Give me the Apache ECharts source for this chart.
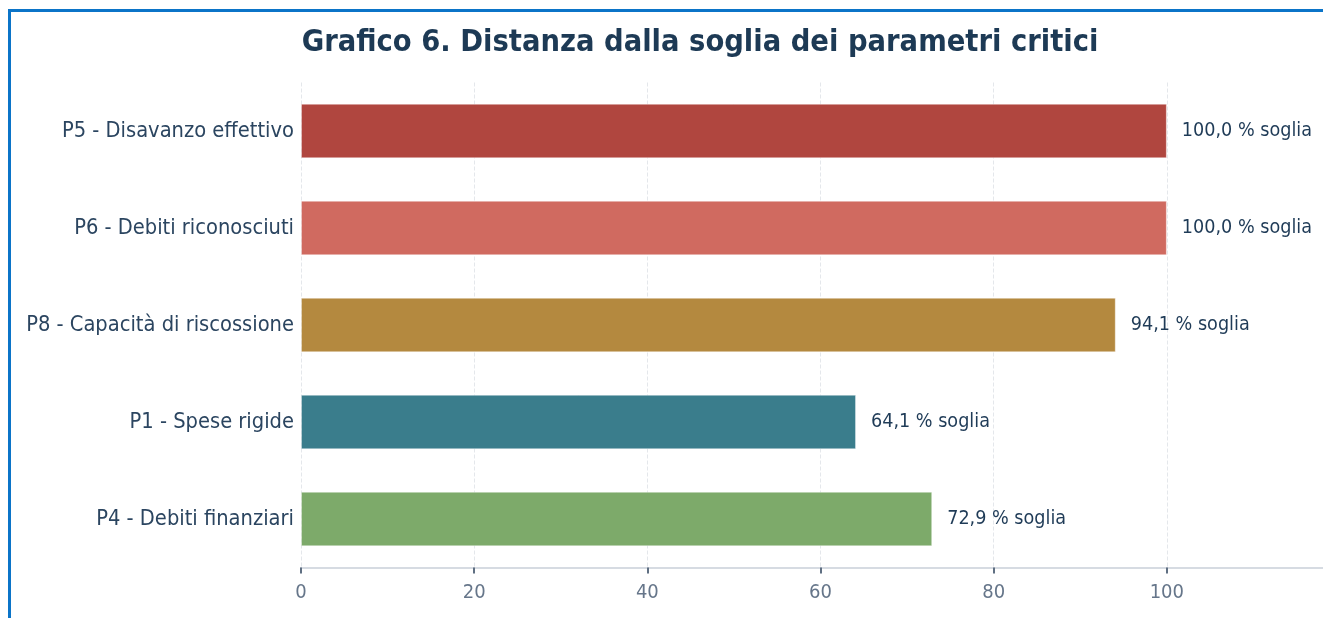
<!DOCTYPE html>
<html>
<head>
<meta charset="utf-8">
<script src="https://cdn.jsdelivr.net/npm/echarts@6/dist/echarts.min.js"></script>
<style>
  html, body { margin: 0; padding: 0; overflow: hidden; background: #fff; }
  #box {
    position: absolute;
    left: 8px;
    top: 9px;
    border: 3px solid #0b74c8;
    width: 1378px;
    height: 640px;
  }
  #chart { width: 1378px; height: 640px; }
</style>
</head>
<body>
<div id="box"><div id="chart"></div></div>
<script>
const categories = [
  'P5 - Disavanzo effettivo',
  'P6 - Debiti riconosciuti',
  'P8 - Capacità di riscossione',
  'P1 - Spese rigide',
  'P4 - Debiti finanziari'
]
const values = [100.0, 100.0, 94.1, 64.1, 72.9]
const barColors = ['#b0463f', '#d06a60', '#b4893f', '#3a7d8c', '#7daa6a']
const xTicks = [0, 20, 40, 60, 80, 100, 120]

const font = '"DejaVu Sans Condensed", "DejaVu Sans", sans-serif'

const chart = echarts.init(document.getElementById('chart'))
chart.setOption({
  animation: false,
  title: {
    text: 'Grafico 6. Distanza dalla soglia dei parametri critici',
    left: 'center',
    top: 11,
    textStyle: {
      fontFamily: font,
      fontSize: 30.5,
      fontWeight: 'bold',
      color: '#1d3a55'
    }
  },
  grid: {
    left: 290,
    right: 49,
    top: 70.5,
    height: 485
  },
  xAxis: {
    type: 'value',
    min: xTicks[0],
    max: xTicks[xTicks.length - 1],
    interval: 20,
    axisLine: { show: true, lineStyle: { color: '#d6dbe2', width: 2 } },
    axisTick: { show: true, length: 6, lineStyle: { color: '#5f6f82', width: 2 } },
    axisLabel: {
      fontFamily: font,
      fontSize: 20,
      color: '#66768a',
      margin: 15,
      showMaxLabel: false
    },
    splitLine: {
      show: true,
      lineStyle: { color: '#e4e7eb', type: 'dashed', width: 1 }
    }
  },
  yAxis: {
    type: 'category',
    inverse: true,
    data: categories,
    axisLine: { show: false },
    axisTick: { show: false },
    axisLabel: {
      fontFamily: font,
      fontSize: 21.7,
      color: '#2b4560',
      margin: 7
    }
  },
  series: [{
    type: 'bar',
    barWidth: '56%',
    data: values.map((v, i) => ({
      value: v,
      itemStyle: { color: barColors[i] }
    })),
    itemStyle: { borderColor: 'rgba(255,255,255,0.35)', borderWidth: 1 },
    label: {
      show: true,
      position: 'right',
      distance: 15,
      fontFamily: font,
      fontSize: 19.6,
      color: '#1f3b57',
      formatter: p => p.value.toFixed(1).replace('.', ',') + ' % soglia'
    }
  }]
})
</script>
</body>
</html>
